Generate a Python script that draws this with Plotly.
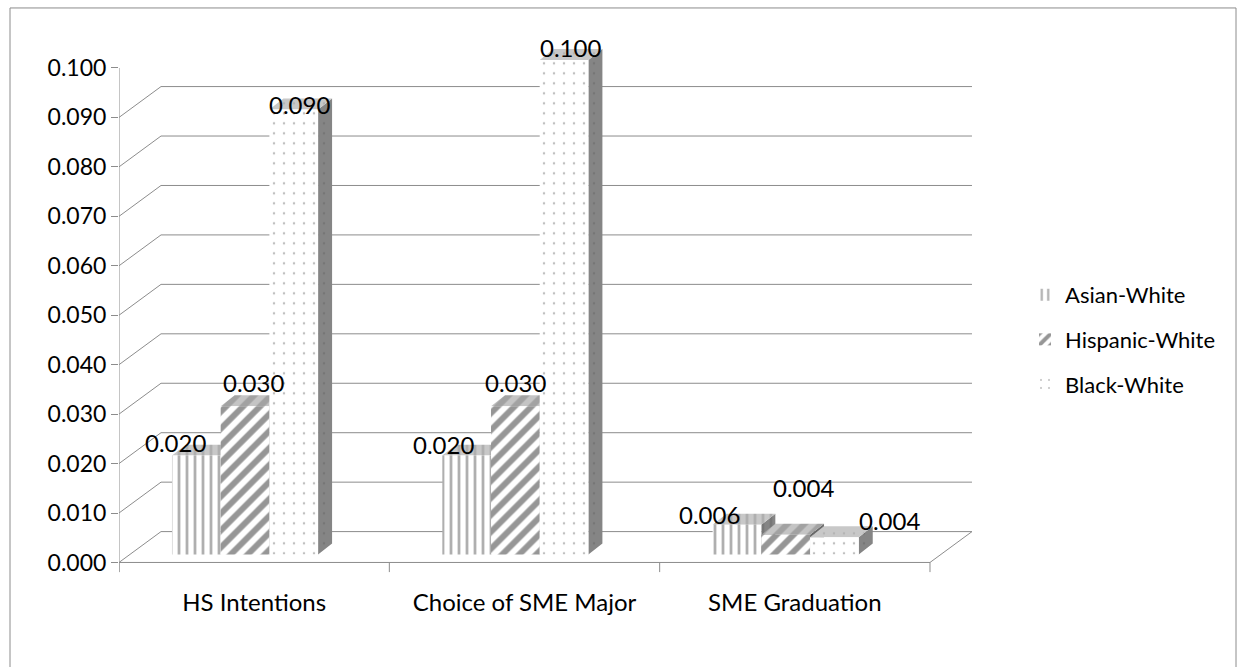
import plotly.graph_objects as go
from decimal import Decimal, ROUND_HALF_UP

# ---------------- data ----------------
categories = ["HS Intentions", "Choice of SME Major", "SME Graduation"]
series_names = ["Asian-White", "Hispanic-White", "Black-White"]
asian_white = [0.020, 0.020, 0.006]
hispanic_white = [0.030, 0.030, 0.004]
black_white = [0.090, 0.100, 0.0035]
y_ticks = [0.000, 0.010, 0.020, 0.030, 0.040, 0.050, 0.060, 0.070, 0.080, 0.090, 0.100]

series_values = [asian_white, hispanic_white, black_white]

# ---------------- styles / layout constants ----------------
W, H = 1248, 667
FONT = "Lato"
TXT = "#000000"
GRID = "#8c8c8c"

PX_X = 270.33          # pixels per category unit
PX_Y = 4967.0          # pixels per value unit
X_LEFT_PX = 119        # pixel of x = -0.5
Y_ZERO_PX = 565        # pixel of value 0 (front plane)

WALL_DX = 42 / PX_X    # 3-D depth of the floor / walls
WALL_DY = 31 / PX_Y
BAR_W = 48.7 / PX_X    # front-face width of one column
CLUSTER_START = -0.304 # left edge of a cluster relative to category centre
BAR_Y0 = 8 / PX_Y      # columns stand a little back on the floor
FACE_DX = 14 / PX_X    # column depth (top / side faces)
FACE_DY = 11 / PX_Y

X_MIN, X_MAX = -0.5, 2.5 + WALL_DX
Y_MIN, Y_MAX = -0.002, 0.106

front_styles = [
    dict(shape="|", fgcolor="#606060", bgcolor="#ffffff", size=8, solidity=0.35),
    dict(shape="/", fgcolor="#2e2e2e", bgcolor="#ffffff", size=12, solidity=0.5),
    dict(shape=".", fgcolor="#808080", bgcolor="#ffffff", size=10, solidity=0.05),
]
top_styles = [
    dict(shape="|", fgcolor="#959595", bgcolor="#c8c8c8", size=8, solidity=0.35),
    dict(shape="/", fgcolor="#808080", bgcolor="#c4c4c4", size=12, solidity=0.5),
    dict(shape=".", fgcolor="#a0a0a0", bgcolor="#c8c8c8", size=10, solidity=0.05),
]
side_styles = [
    dict(shape="|", fgcolor="#6a6a6a", bgcolor="#858585", size=8, solidity=0.35),
    dict(shape="/", fgcolor="#4a4a4a", bgcolor="#858585", size=12, solidity=0.5),
    dict(shape=".", fgcolor="#666666", bgcolor="#858585", size=10, solidity=0.05),
]
# pixel offsets of the data labels (series x category)
label_offsets = [
    [(-21, 13), (-23, 11), (-27, 10)],
    [(8, 24), (0, 24), (18, 47)],
    [(6, 5), (6, 13), (55, 17)],
]


def fmt(v):
    return str(Decimal(str(v)).quantize(Decimal("0.001"), rounding=ROUND_HALF_UP))


fig = go.Figure()

# side faces and top faces (drawn below the front faces)
for faces in ("side", "top"):
    for k, vals in enumerate(series_values):
        xs, ys = [], []
        for i, v in enumerate(vals):
            L = i + CLUSTER_START + k * BAR_W
            R = L + BAR_W
            t = v + BAR_Y0
            if faces == "side":
                px = [R, R + FACE_DX, R + FACE_DX, R, R]
                py = [BAR_Y0, BAR_Y0 + FACE_DY, t + FACE_DY, t, BAR_Y0]
            else:
                px = [L, R, R + FACE_DX, L + FACE_DX, L]
                py = [t, t, t + FACE_DY, t + FACE_DY, t]
            xs += px + [None]
            ys += py + [None]
        st = side_styles[k] if faces == "side" else top_styles[k]
        fig.add_trace(go.Scatter(
            x=xs, y=ys, mode="lines", fill="toself",
            fillcolor=st["bgcolor"], fillpattern=st,
            line=dict(width=0, color=st["bgcolor"]),
            showlegend=False, hoverinfo="skip",
        ))

# front faces as bars (on an overlaying axis so they sit on top)
for k, (name, vals) in enumerate(zip(series_names, series_values)):
    fig.add_trace(go.Bar(
        x=[i + CLUSTER_START + k * BAR_W + BAR_W / 2 for i in range(len(vals))],
        y=vals, base=BAR_Y0, width=BAR_W, yaxis="y2", name=name,
        marker=dict(color="#ffffff", line=dict(width=0), pattern=front_styles[k]),
        legendgroup=name, hoverinfo="skip",
    ))

# data labels
for k, vals in enumerate(series_values):
    for i, v in enumerate(vals):
        dx, dy = label_offsets[k][i]
        fig.add_annotation(
            x=i + CLUSTER_START + k * BAR_W + BAR_W / 2, y=v + BAR_Y0,
            xref="x", yref="y", text=fmt(v), showarrow=False,
            xshift=dx, yshift=dy, xanchor="center", yanchor="middle",
            font=dict(family=FONT, size=24, color=TXT),
        )

shapes = []
gl = dict(color=GRID, width=1)
# back-wall gridlines and left-wall diagonals
for v in y_ticks:
    if v < 0.1 - 1e-9:
        shapes.append(dict(type="line", xref="x", yref="y", layer="below",
                           x0=-0.5, y0=v, x1=-0.5 + WALL_DX, y1=v + WALL_DY, line=gl))
        shapes.append(dict(type="line", xref="x", yref="y", layer="below",
                           x0=-0.5 + WALL_DX, y0=v + WALL_DY, x1=2.5 + WALL_DX, y1=v + WALL_DY, line=gl))
# floor front edge, right edge
shapes.append(dict(type="line", xref="x", yref="y", layer="below",
                   x0=-0.5, y0=0, x1=2.5, y1=0, line=gl))
shapes.append(dict(type="line", xref="x", yref="y", layer="below",
                   x0=2.5, y0=0, x1=2.5 + WALL_DX, y1=WALL_DY, line=gl))
# vertical axis line
shapes.append(dict(type="line", xref="x", yref="y", layer="below",
                   x0=-0.5, y0=Y_MIN, x1=-0.5, y1=y_ticks[-1], line=gl))
# category boundary ticks
for b in [-0.5, 0.5, 1.5, 2.5]:
    shapes.append(dict(type="line", xref="x", yref="y", layer="below",
                       x0=b, y0=0, x1=b, y1=Y_MIN, line=gl))
# outer chart border
shapes.append(dict(type="rect", xref="paper", yref="paper",
                   x0=10 / W, x1=1236 / W, y0=-0.05, y1=1 - 8 / H,
                   line=dict(color="#8c8c8c", width=1), fillcolor="rgba(0,0,0,0)"))

x_dom = [X_LEFT_PX / W, (X_LEFT_PX + (X_MAX - X_MIN) * PX_X) / W]
y_top_px = Y_ZERO_PX - Y_MAX * PX_Y
y_bot_px = Y_ZERO_PX - Y_MIN * PX_Y
y_dom = [1 - y_bot_px / H, 1 - y_top_px / H]

fig.update_layout(
    width=W, height=H,
    margin=dict(l=0, r=0, t=0, b=0),
    paper_bgcolor="#ffffff", plot_bgcolor="rgba(0,0,0,0)",
    barmode="overlay",
    font=dict(family=FONT, color=TXT),
    shapes=shapes,
    xaxis=dict(domain=x_dom, range=[X_MIN, X_MAX], tickvals=[0, 1, 2], ticktext=categories,
               showgrid=False, zeroline=False, showline=False, ticks="",
               tickfont=dict(family=FONT, size=24, color=TXT), ticklabelstandoff=14,
               fixedrange=True),
    yaxis=dict(domain=y_dom, range=[Y_MIN, Y_MAX], tickvals=y_ticks, tickformat=".3f",
               showgrid=False, zeroline=False, showline=False,
               ticks="outside", ticklen=7, tickcolor=GRID, tickwidth=1,
               tickfont=dict(family=FONT, size=23, color=TXT), ticklabelstandoff=0,
               fixedrange=True),
    yaxis2=dict(domain=y_dom, range=[Y_MIN, Y_MAX], overlaying="y", visible=False,
                fixedrange=True),
    legend=dict(x=1025 / W, y=1 - 341 / H, xanchor="left", yanchor="middle",
                font=dict(family=FONT, size=22, color=TXT),
                bgcolor="rgba(0,0,0,0)", tracegroupgap=13, traceorder="grouped"),
    showlegend=True,
)

fig.write_html("out.html")
